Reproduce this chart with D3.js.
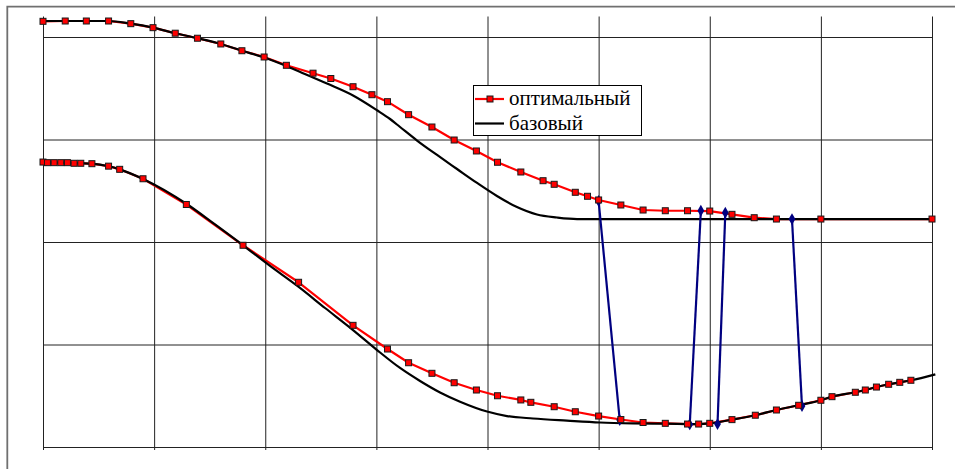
<!DOCTYPE html>
<html>
<head>
<meta charset="utf-8">
<script src="https://cdn.jsdelivr.net/npm/d3@7"></script>
<style>
  html, body { margin: 0; padding: 0; background: #fff; }
  svg { display: block; }
</style>
</head>
<body>
<svg id="chart" width="955" height="469"></svg>
<script>
// ---------- data ----------
const xTicks = [0, 1, 2, 3, 4, 5, 6, 7, 8];
const yTicks = [0, 1, 2, 3, 4];

const legendLabels = ["оптимальный", "базовый"];

// upper curve, optimal (red with markers)
const optUpperX = [0, 0.2, 0.39, 0.59, 0.79, 0.99, 1.19, 1.39, 1.6, 1.79, 1.99, 2.19, 2.43, 2.59, 2.79, 2.96, 3.1, 3.29, 3.5, 3.7, 3.9, 4.09, 4.3, 4.5, 4.6, 4.79, 4.9, 5.0, 5.2, 5.4, 5.6, 5.8, 6.0, 6.2, 6.4, 6.6, 7.0, 8.0];
const optUpperY = [4.153, 4.156, 4.156, 4.156, 4.13, 4.091, 4.037, 3.988, 3.932, 3.866, 3.805, 3.724, 3.647, 3.595, 3.515, 3.437, 3.369, 3.242, 3.122, 2.995, 2.888, 2.778, 2.683, 2.598, 2.563, 2.485, 2.446, 2.41, 2.361, 2.312, 2.305, 2.305, 2.302, 2.27, 2.237, 2.224, 2.224, 2.224];

// upper curve, base (black)
const baseUpperX = [0, 0.585, 0.79, 0.99, 1.19, 1.39, 1.6, 1.79, 1.99, 2.19, 2.31, 2.55, 2.79, 3.006, 3.123, 3.213, 3.366, 3.546, 3.726, 3.906, 4.085, 4.265, 4.445, 4.625, 4.806, 8.0];
const baseUpperY = [4.156, 4.156, 4.13, 4.091, 4.037, 3.988, 3.932, 3.866, 3.8, 3.717, 3.661, 3.548, 3.429, 3.285, 3.2, 3.122, 2.99, 2.849, 2.712, 2.576, 2.449, 2.341, 2.268, 2.239, 2.224, 2.224];

// lower curve, optimal (red with markers)
const optLowerX = [0, 0.04, 0.1, 0.16, 0.22, 0.28, 0.34, 0.44, 0.59, 0.69, 0.9, 1.29, 1.8, 2.3, 2.79, 3.1, 3.29, 3.5, 3.7, 3.9, 4.09, 4.3, 4.39, 4.6, 4.79, 5.0, 5.2, 5.4, 5.6, 5.8, 5.9, 6.0, 6.2, 6.41, 6.6, 6.8, 7.0, 7.1, 7.31, 7.4, 7.5, 7.61, 7.71, 7.81];
const optLowerY = [2.78, 2.774, 2.774, 2.774, 2.774, 2.768, 2.768, 2.764, 2.74, 2.709, 2.617, 2.366, 1.968, 1.607, 1.187, 0.956, 0.822, 0.719, 0.627, 0.556, 0.5, 0.459, 0.436, 0.393, 0.344, 0.302, 0.268, 0.239, 0.231, 0.224, 0.224, 0.231, 0.267, 0.31, 0.361, 0.407, 0.456, 0.491, 0.534, 0.556, 0.585, 0.612, 0.631, 0.651];

// lower curve, base (black)
const baseLowerX = [0, 0.34, 0.44, 0.59, 0.69, 0.9, 1.3, 1.548, 1.8, 2.043, 2.295, 2.538, 2.79, 3.006, 3.213, 3.393, 3.573, 3.753, 3.996, 4.175, 4.409, 4.715, 5.012, 5.308, 5.597, 5.894, 6.0, 6.2, 6.41, 6.6, 6.8, 7.0, 7.1, 7.31, 7.4, 7.5, 7.61, 7.71, 7.81, 8.03];
const baseLowerY = [2.78, 2.768, 2.764, 2.739, 2.709, 2.615, 2.366, 2.171, 1.968, 1.766, 1.566, 1.356, 1.141, 0.946, 0.771, 0.644, 0.532, 0.442, 0.346, 0.302, 0.278, 0.257, 0.239, 0.231, 0.228, 0.224, 0.231, 0.267, 0.31, 0.361, 0.407, 0.456, 0.491, 0.534, 0.556, 0.585, 0.612, 0.631, 0.651, 0.709];

// blue connecting segments
const switchX1 = [5.0, 5.82, 6.07, 6.74];
const switchY1 = [2.40, 0.22, 0.224, 2.224];
const switchX2 = [5.19, 5.92, 6.14, 6.83];
const switchY2 = [0.263, 2.305, 2.286, 0.40];

// ---------- layout ----------
const svg = d3.select("#chart");
const plotLeft = 43, plotRight = 932, plotBottom = 447, plotTop = 16.5;

const x = d3.scaleLinear().domain([0, 8]).range([plotLeft, plotRight]);
const y = d3.scaleLinear().domain([0, 4.2]).range([plotBottom, plotTop]);

const zip = (xs, ys) => xs.map((v, i) => [v, ys[i]]);

// outer frame (left and top edges)
svg.append("path")
  .attr("d", "M7.3,469 L7.3,6.7 L955,6.7")
  .attr("fill", "none").attr("stroke", "#707070").attr("stroke-width", 1.8);

// vertical grid lines (with small ticks below the axis)
const gx = svg.append("g").attr("transform", `translate(0,${plotBottom + 3})`)
  .call(d3.axisBottom(x).tickValues(xTicks).tickSize(-(plotBottom + 3 - plotTop)).tickFormat(""));
gx.select(".domain").remove();
gx.selectAll(".tick line").attr("stroke", "#222");

// horizontal grid lines
const gy = svg.append("g").attr("transform", `translate(${plotLeft},0)`)
  .call(d3.axisLeft(y).tickValues(yTicks).tickSize(-(plotRight - plotLeft)).tickFormat(""));
gy.select(".domain").remove();
gy.selectAll(".tick line").attr("stroke", "#222");

const lineLin = d3.line().x(d => x(d[0])).y(d => y(d[1]));
const lineSmooth = d3.line().x(d => x(d[0])).y(d => y(d[1])).curve(d3.curveMonotoneX);

const optUpper = zip(optUpperX, optUpperY);
const optLower = zip(optLowerX, optLowerY);
const baseUpper = zip(baseUpperX, baseUpperY);
const baseLower = zip(baseLowerX, baseLowerY);

// red lines
[optUpper, optLower].forEach(s => {
  svg.append("path").attr("d", lineLin(s))
    .attr("fill", "none").attr("stroke", "#ff0000").attr("stroke-width", 2.2)
    .attr("stroke-linejoin", "round");
});

// black lines
[baseUpper, baseLower].forEach(s => {
  svg.append("path").attr("d", lineSmooth(s))
    .attr("fill", "none").attr("stroke", "#000").attr("stroke-width", 2.2)
    .attr("stroke-linejoin", "round");
});

// blue segments
const sw = switchX1.map((v, i) => ({ a: [v, switchY1[i]], b: [switchX2[i], switchY2[i]] }));
svg.append("g").selectAll("line").data(sw).join("line")
  .attr("x1", d => x(d.a[0])).attr("y1", d => y(d.a[1]))
  .attr("x2", d => x(d.b[0])).attr("y2", d => y(d.b[1]))
  .attr("stroke", "#000080").attr("stroke-width", 2.2);

const diamond = d3.symbol().type(d3.symbolDiamond).size(40);
const ends = sw.flatMap(d => [d.a, d.b]);
svg.append("g").selectAll("path").data(ends).join("path")
  .attr("d", diamond)
  .attr("transform", d => `translate(${x(d[0])},${y(d[1])})`)
  .attr("fill", "#000080");

// red square markers
const ms = 6;
svg.append("g").selectAll("rect").data(optUpper.concat(optLower)).join("rect")
  .attr("x", d => x(d[0]) - ms / 2).attr("y", d => y(d[1]) - ms / 2)
  .attr("width", ms).attr("height", ms)
  .attr("fill", "#ff0000").attr("stroke", "#1a1a1a").attr("stroke-width", 1);

// legend
const lg = svg.append("g");
lg.append("rect").attr("x", 473.5).attr("y", 85.5).attr("width", 168).attr("height", 50)
  .attr("fill", "#fff").attr("stroke", "#000").attr("stroke-width", 1);
lg.append("line").attr("x1", 475).attr("x2", 504).attr("y1", 99).attr("y2", 99)
  .attr("stroke", "#ff0000").attr("stroke-width", 2.2);
lg.append("rect").attr("x", 490 - ms / 2).attr("y", 99 - ms / 2).attr("width", ms).attr("height", ms)
  .attr("fill", "#ff0000").attr("stroke", "#1a1a1a").attr("stroke-width", 1);
lg.append("line").attr("x1", 475).attr("x2", 504).attr("y1", 123.5).attr("y2", 123.5)
  .attr("stroke", "#000").attr("stroke-width", 2.2);
lg.selectAll("text").data(legendLabels).join("text")
  .attr("x", 509).attr("y", (d, i) => 105 + i * 24.5)
  .attr("font-family", "'Liberation Serif', 'DejaVu Serif', serif")
  .attr("font-size", 21)
  .attr("fill", "#000")
  .text(d => d);
</script>
</body>
</html>
